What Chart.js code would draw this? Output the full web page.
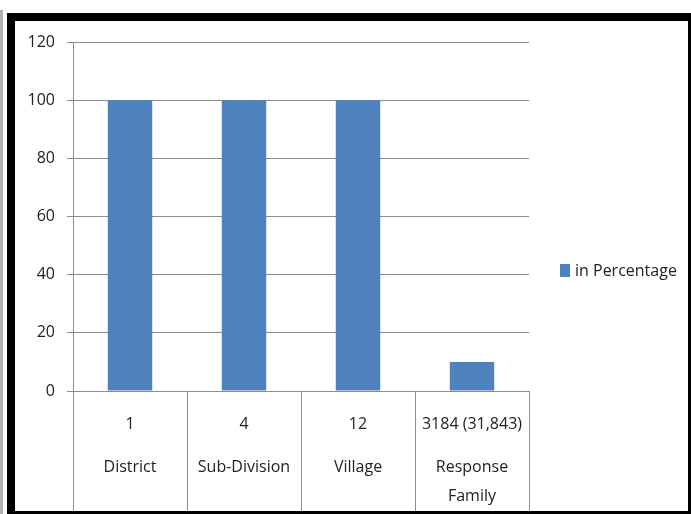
<!DOCTYPE html>
<html>
<head>
<meta charset="utf-8">
<script src="https://cdn.jsdelivr.net/npm/chart.js@4"></script>
<style>
  body { margin: 0; background: #fff; }
  #wrap { position: relative; width: 691px; height: 514px; }
  #grafico { position: absolute; left: 0; top: 0; }
  .marco { position: absolute; background: #000; }
</style>
</head>
<body>
<div id="wrap">
  <canvas id="grafico" width="691" height="514"></canvas>
  <!-- marco negro de la captura -->
  <div class="marco" style="left:0;top:10px;width:3px;height:504px;background:#b0b0b0"></div>
  <div class="marco" style="left:7px;top:13px;width:684px;height:8px"></div>
  <div class="marco" style="left:7px;top:13px;width:8px;height:501px"></div>
  <div class="marco" style="left:688px;top:13px;width:3px;height:501px"></div>
  <div class="marco" style="left:7px;top:511px;width:684px;height:3px"></div>
</div>
<script>
// datos
const counts = ["1", "4", "12", "3184 (31,843)"];
const levels = [["District"], ["Sub-Division"], ["Village"], ["Response", "Family"]];
const percentage = [100, 100, 100, 10];
const seriesName = "in Percentage";
const yMax = 120;
const yStep = 20;

const azul = "#4F81BD";
const gris = "#8c8c8c";
const texto = "#222222";
const fuente = '"Open Sans", sans-serif';

// etiquetas del eje X en dos filas (numero y nombre)
const tablaEjeX = {
    id: "tablaEjeX",
    afterDraw(chart) {
        const { ctx, scales: { x } } = chart;
        ctx.save();
        ctx.font = "16px " + fuente;
        ctx.fillStyle = texto;
        ctx.textAlign = "center";
        ctx.textBaseline = "middle";
        counts.forEach((c, i) => {
            const cx = x.getPixelForTick(i);
            ctx.fillText(c, cx, x.top + 33);
            levels[i].forEach((linea, j) => {
                ctx.fillText(linea, cx, x.top + 76 + j * 29);
            });
        });
        ctx.restore();
    }
};

// leyenda a la derecha
const leyenda = {
    id: "leyenda",
    afterDraw(chart) {
        const { ctx } = chart;
        const color = chart.data.datasets[0].backgroundColor;
        ctx.save();
        ctx.fillStyle = color;
        ctx.fillRect(560, 264, 10, 13);
        ctx.font = "16px " + fuente;
        ctx.fillStyle = texto;
        ctx.textAlign = "left";
        ctx.textBaseline = "middle";
        ctx.fillText(chart.data.datasets[0].label, 575, 271);
        ctx.restore();
    }
};

new Chart(document.getElementById("grafico"), {
    type: "bar",
    data: {
        labels: counts,
        datasets: [{
            label: seriesName,
            data: percentage,
            backgroundColor: azul,
            categoryPercentage: 1,
            barPercentage: 0.39
        }]
    },
    options: {
        responsive: false,
        animation: false,
        events: [],
        layout: { padding: { left: 0, top: 42, right: 162, bottom: 0 } },
        plugins: {
            legend: { display: false },
            tooltip: { enabled: false }
        },
        scales: {
            x: {
                afterFit: (s) => { s.height = 123; },
                ticks: { display: false },
                grid: {
                    offset: true,
                    drawOnChartArea: false,
                    drawTicks: true,
                    tickLength: 123,
                    color: gris,
                    lineWidth: 1
                },
                border: { display: true, color: gris, width: 1 }
            },
            y: {
                min: 0,
                max: yMax,
                afterFit: (s) => { s.width = 73; },
                ticks: {
                    stepSize: yStep,
                    padding: 12,
                    color: texto,
                    font: { family: fuente, size: 16 }
                },
                grid: {
                    color: gris,
                    lineWidth: 1,
                    drawTicks: true,
                    tickLength: 6
                },
                border: { display: true, color: gris, width: 1 }
            }
        }
    },
    plugins: [tablaEjeX, leyenda]
});
</script>
</body>
</html>
